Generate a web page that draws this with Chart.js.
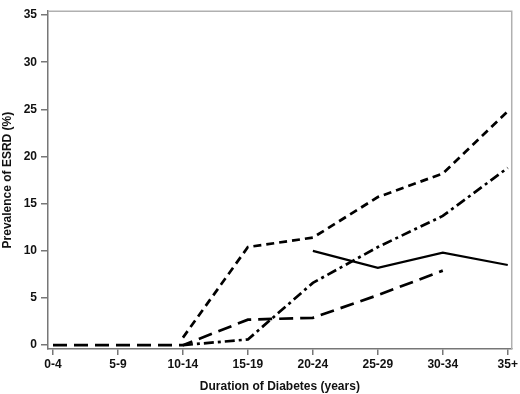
<!DOCTYPE html>
<html>
<head>
<meta charset="utf-8">
<script src="https://cdn.jsdelivr.net/npm/chart.js@4.4.0/dist/chart.umd.min.js"></script>
<style>
  html, body { margin: 0; padding: 0; background: #fff; }
  #wrap { width: 520px; height: 394px; }
</style>
</head>
<body>
<div id="wrap"><canvas id="c"></canvas></div>
<script>
// Duration categories (x axis)
const categories = ['0-4', '5-9', '10-14', '15-19', '20-24', '25-29', '30-34', '35+']
const yTicks = [0, 5, 10, 15, 20, 25, 30, 35]

// Prevalence of ESRD (%), null = no point
const shortDash = [null, null, 0.8, 10.4, 11.4, 15.7, 18.2, 24.8]
const dashDot   = [null, null, 0, 0.6, 6.6, 10.4, 13.7, 18.8]
const longDash  = [0, 0, 0, 2.7, 2.9, 5.3, 7.9, null]
const solid     = [null, null, null, null, 10.0, 8.2, 9.8, 8.5]

function points(arr) {
    return arr.map((v, i) => ({ x: i, y: v })).filter(p => p.y !== null)
}

function serie(arr, dash, width) {
    return {
        data: points(arr),
        borderColor: '#000',
        borderWidth: width,
        borderDash: dash,
        pointRadius: 0,
        tension: 0,
        fill: false
    }
}

// cadre gris du haut et de droite
const frame = {
    id: 'frame',
    beforeDatasetsDraw(chart) {
        const a = chart.chartArea, ctx = chart.ctx
        ctx.save()
        ctx.strokeStyle = '#b0b0b0'
        ctx.lineWidth = 1.5
        ctx.beginPath()
        ctx.moveTo(a.left, a.top)
        ctx.lineTo(a.right, a.top)
        ctx.lineTo(a.right, a.bottom)
        ctx.stroke()
        ctx.restore()
    }
}

const font = { family: 'Liberation Sans, Arial, sans-serif', size: 12, weight: 'bold' }
const axisColor = '#777'

new Chart(document.getElementById('c'), {
    type: 'line',
    data: {
        datasets: [
            serie(shortDash, [8, 5], 2.7),
            serie(dashDot, [10, 4, 3, 4], 2.7),
            serie(longDash, [14, 7], 2.7),
            serie(solid, [], 2.2)
        ]
    },
    options: {
        responsive: true,
        maintainAspectRatio: false,
        animation: false,
        layout: { padding: { top: 2, right: 7, left: 0, bottom: 0 } },
        plugins: { legend: { display: false }, tooltip: { enabled: false } },
        scales: {
            x: {
                type: 'linear',
                min: -0.077,
                max: 7.061,
                afterBuildTicks: s => { s.ticks = categories.map((c, i) => ({ value: i })) },
                afterFit: s => { s.height = 45 },
                ticks: {
                    callback: v => categories[v],
                    color: '#111',
                    font: font,
                    padding: 2,
                    maxRotation: 0
                },
                grid: { display: true, drawOnChartArea: false, drawTicks: true, tickLength: 6, color: axisColor, lineWidth: 1.5 },
                border: { display: true, color: axisColor, width: 1.5 },
                title: { display: true, text: 'Duration of Diabetes (years)', color: '#111', font: font, padding: { top: 6, bottom: 0 } }
            },
            y: {
                min: -0.41,
                max: 35.41,
                afterBuildTicks: s => { s.ticks = yTicks.map(v => ({ value: v })) },
                afterFit: s => { s.width = 48 },
                ticks: {
                    color: '#111',
                    font: font,
                    padding: 4
                },
                grid: { display: true, drawOnChartArea: false, drawTicks: true, tickLength: 7, color: axisColor, lineWidth: 1.5 },
                border: { display: true, color: axisColor, width: 1.5 },
                title: { display: true, text: 'Prevalence of ESRD (%)', color: '#111', font: font, padding: { top: 0, bottom: 0 } }
            }
        }
    },
    plugins: [frame]
})
</script>
</body>
</html>
